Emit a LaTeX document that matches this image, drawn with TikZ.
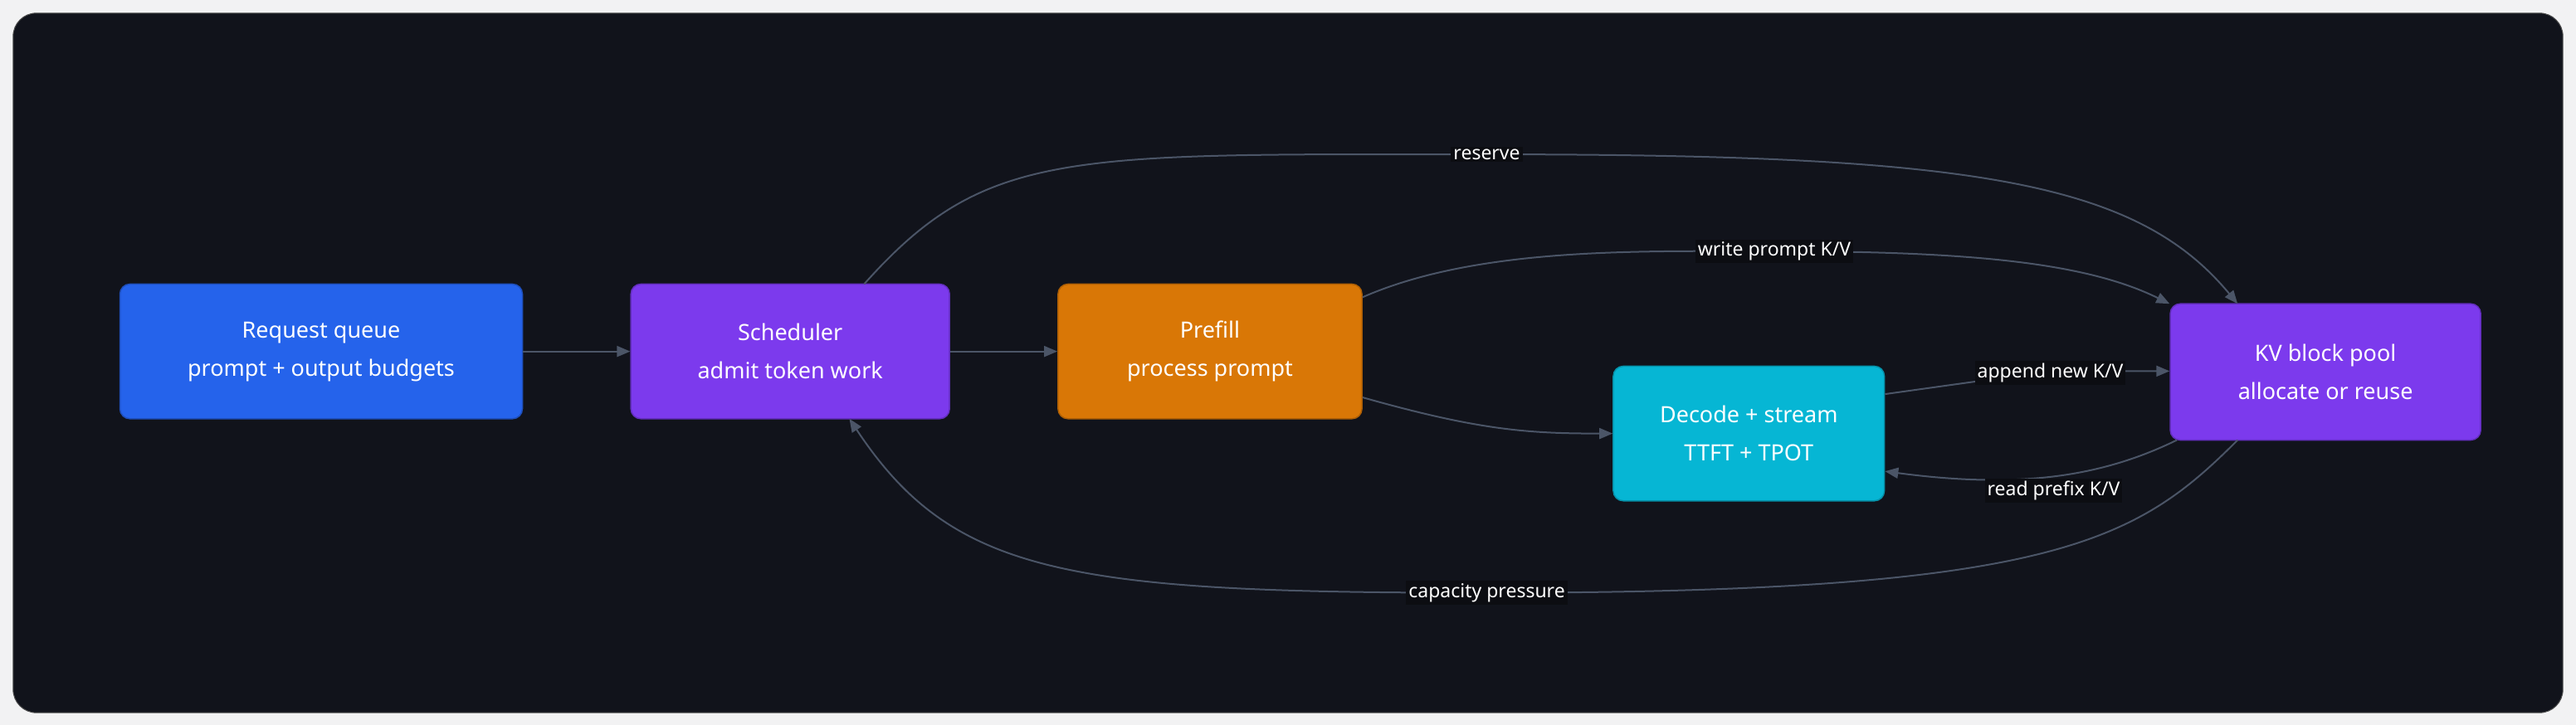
\documentclass[tikz,border=0pt]{standalone}
\usepackage{fontspec}
\setmainfont{Noto Sans}
\usetikzlibrary{arrows.meta}
\definecolor{bgout}{HTML}{F2F2F3}
\definecolor{panel}{HTML}{11131B}
\definecolor{edge}{HTML}{4B5567}
\definecolor{cblue}{HTML}{2563EB}
\definecolor{cpurple}{HTML}{7C3AED}
\definecolor{corange}{HTML}{D97706}
\definecolor{ccyan}{HTML}{06B6D4}
\definecolor{lblbg}{HTML}{0C0D12}
\begin{document}
\begin{tikzpicture}[x=1.98pt,y=-1.98pt,
  box/.style={draw=#1!80!black,line width=1.5pt,fill=#1,rounded corners=12pt,text=white,align=center,
    font=\fontsize{27}{46}\selectfont,inner sep=0pt},
  conn/.style={draw=edge,line width=2pt,-{Triangle[length=16pt,width=13pt]}},
  lbl/.style={fill=lblbg,text=white,font=\fontsize{23}{26}\selectfont,inner sep=3pt}]
\useasboundingbox (0,0) rectangle (1568,441.5);
\fill[bgout] (0,0) rectangle (1568,441.5);
\filldraw[fill=panel,draw=black!70,line width=1pt,rounded corners=28pt] (8,8) rectangle (1560,434);
\node[box=cblue,minimum width=245*1.98pt,minimum height=82*1.98pt] (req) at (195.5,214) {Request queue\\prompt + output budgets};
\node[box=cpurple,minimum width=194*1.98pt,minimum height=82*1.98pt] (sch) at (481,214) {Scheduler\\admit token work};
\node[box=corange,minimum width=185*1.98pt,minimum height=82*1.98pt] (pre) at (736.5,214) {Prefill\\process prompt};
\node[box=ccyan,minimum width=165*1.98pt,minimum height=82*1.98pt] (dec) at (1064.5,264) {Decode + stream\\TTFT + TPOT};
\node[box=cpurple,minimum width=189*1.98pt,minimum height=83*1.98pt] (kv) at (1415.5,226.5) {KV block pool\\allocate or reuse};
\draw[conn] (req.east) -- (sch.west);
\draw[conn] (sch.east) -- (pre.west);
\draw[conn] (pre.east |- 0,242) .. controls (900,262) and (930,264) .. (dec.west);
\draw[conn] (pre.east |- 0,181) .. controls (900,150) and (1000,153) .. (1080,153)
  .. controls (1200,153) and (1270,160) .. (kv.north west |- 0,185) node[pos=0,lbl] {write prompt K/V};
\path (1080,153) node[lbl] {write prompt K/V};
\draw[conn] (526,173) .. controls (600,90) and (650,94) .. (905,94)
  .. controls (1200,94) and (1300,110) .. (1362,185);
\path (905,94) node[lbl] {reserve};
\draw[conn] (dec.east |- 0,240) -- (1248,226) -- (kv.west |- 0,226);
\path (1248,227) node[lbl] {append new K/V};
\draw[conn] (1325,268) .. controls (1280,290) and (1230,298) .. (dec.east |- 0,287);
\path (1250,299) node[lbl] {read prefix K/V};
\draw[conn] (1362,268) .. controls (1300,330) and (1250,361) .. (905,361)
  .. controls (650,361) and (580,350) .. (517,255);
\path (905,361) node[lbl] {capacity pressure};
\end{tikzpicture}
\end{document}
